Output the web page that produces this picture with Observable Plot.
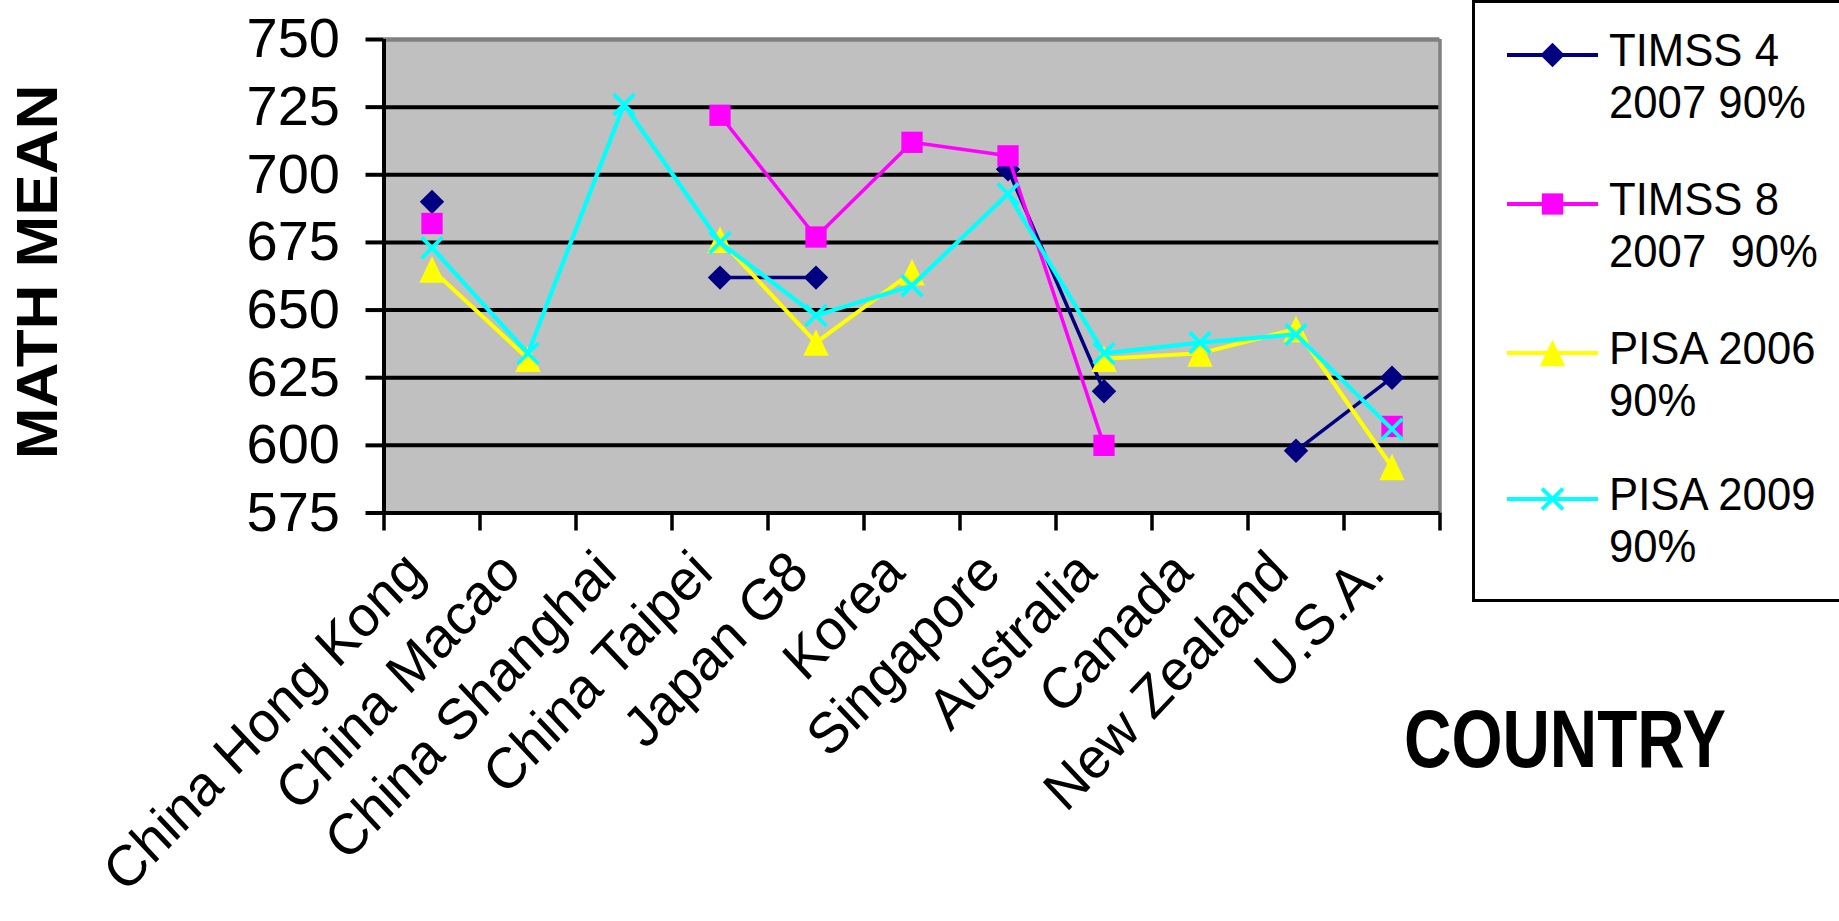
<!DOCTYPE html>
<html>
<head>
<meta charset="utf-8">
<script src="https://cdn.jsdelivr.net/npm/d3@7"></script>
<script src="https://cdn.jsdelivr.net/npm/@observablehq/plot@0.6"></script>
<style>
  html, body { margin: 0; padding: 0; background: #fff; overflow: hidden; }
  #chart svg { display: block; }
</style>
</head>
<body>
<div id="chart"></div>
<script>
// Countries along the x axis
const countries = [
  "China Hong Kong", "China Macao", "China Shanghai", "China Taipei", "Japan G8",
  "Korea", "Singapore", "Australia", "Canada", "New Zealand", "U.S.A."
];

// 90th-percentile math means (null = not assessed)
const timss4   = [690, null, null, 662, 662, null, 702, 620, null, 598, 625];
const timss8   = [682, null, null, 722, 677, 712, 707, 600, null, null, 607];
const pisa2006 = [665, 632, null, 676, 638, 664, null, 632, 634, 643, 592];
const pisa2009 = [673, 634, 726, 675, 648, 659, 693, 634, 638, 641, 606];

// Legend labels, two lines each
const legendLabels = [
  ["TIMSS 4", "2007 90%"],
  ["TIMSS 8", "2007  90%"],
  ["PISA 2006", "90%"],
  ["PISA 2009", "90%"]
];

// Y axis ticks
const yTicks = [575, 600, 625, 650, 675, 700, 725, 750];

// Triangle centred on its bounding box
const triangleMarker = {
  draw(context, size) {
    const s = Math.sqrt(size) * 0.73;
    const h = s * 1.05;
    context.moveTo(0, -h);
    context.lineTo(s, h);
    context.lineTo(-s, h);
    context.closePath();
  }
};

const seriesValues = [timss4, timss8, pisa2006, pisa2009];
const seriesStyle = [
  {color: "#000080", symbol: d3.symbolDiamond2, r: 11, filled: true, width: 3.5},
  {color: "#ff00ff", symbol: d3.symbolSquare, r: 12, filled: true, width: 3.5},
  {color: "#ffff00", symbol: triangleMarker, r: 9.8, filled: true, width: 4},
  {color: "#00ffff", symbol: d3.symbolTimes, r: 9.5, filled: false, width: 4.2}
];

const W = 1839, H = 921;
const frameLeft = 383.5, frameRight = 1439.5, frameTop = 39, frameBottom = 512.5;

const seriesMarks = seriesValues.flatMap((values, k) => {
  const st = seriesStyle[k];
  const rows = countries.map((c, i) => ({x: i + 0.5, y: values[i]}));
  return [
    Plot.line(rows, {x: "x", y: "y", stroke: st.color, strokeWidth: st.width}),
    Plot.dot(rows, {
      x: "x", y: "y", symbol: st.symbol, r: st.r,
      fill: st.filled ? st.color : "none",
      stroke: st.filled ? "none" : st.color,
      strokeWidth: st.filled ? 0 : 3.8
    })
  ];
});

const chart = Plot.plot({
  width: W,
  height: H,
  marginLeft: frameLeft,
  marginRight: W - frameRight,
  marginTop: frameTop,
  marginBottom: H - frameBottom,
  style: {fontFamily: "'Liberation Sans', Arial, sans-serif", background: "#fff", color: "#000"},
  x: {domain: [0, countries.length]},
  y: {domain: [yTicks[0], yTicks[yTicks.length - 1]]},
  marks: [
    Plot.frame({fill: "#c0c0c0", stroke: "none"}),
    Plot.ruleY(yTicks.slice(1, -1), {stroke: "#000", strokeWidth: 4}),
    Plot.ruleY([yTicks[yTicks.length - 1]], {stroke: "#808080", strokeWidth: 4.5}),
    Plot.ruleX([countries.length], {stroke: "#808080", strokeWidth: 3.5}),
    Plot.ruleY([yTicks[0]], {stroke: "#000", strokeWidth: 4}),
    Plot.ruleX([0], {stroke: "#000", strokeWidth: 4}),
    Plot.axisY(yTicks, {tickSize: 18, tickPadding: 26, fontSize: 56, strokeWidth: 4, label: null}),
    Plot.axisX(d3.range(0, countries.length + 1), {tickSize: 18, strokeWidth: 3.5, tickFormat: () => "", label: null}),
    ...seriesMarks,
    Plot.text(countries, {
      x: (d, i) => i + 0.5,
      text: d => d,
      frameAnchor: "bottom",
      rotate: -45,
      textAnchor: "end",
      fontSize: 54,
      dx: -5,
      dy: 62,
      className: "country-label"
    })
  ]
});

document.getElementById("chart").appendChild(chart);

const svg = d3.select(chart);

// Slightly taller lettering for the slanted country names
svg.selectAll(".country-label text").attr("transform", function () {
  return this.getAttribute("transform").replace(" rotate(", " scale(1,1.06) rotate(");
});

// Axis titles
svg.append("text")
  .attr("transform", "translate(56.5,272) rotate(-90) scale(1.07,1)")
  .attr("text-anchor", "middle")
  .attr("font-weight", "bold")
  .attr("font-size", 58)
  .attr("fill", "#000")
  .text("MATH MEAN");

svg.append("text")
  .attr("transform", "translate(1565,767) scale(0.8,1)")
  .attr("text-anchor", "middle")
  .attr("font-weight", "bold")
  .attr("font-size", 82)
  .attr("fill", "#000")
  .text("COUNTRY");

// Legend
const legend = svg.append("g");
legend.append("rect")
  .attr("x", 1473.5).attr("y", 1.5)
  .attr("width", 420).attr("height", 599)
  .attr("fill", "#fff").attr("stroke", "#000").attr("stroke-width", 3);

const rowY = [55, 204, 353, 499];
legendLabels.forEach((lines, k) => {
  const st = seriesStyle[k];
  const y = rowY[k];
  legend.append("line")
    .attr("x1", 1507).attr("x2", 1598).attr("y1", y).attr("y2", y)
    .attr("stroke", st.color).attr("stroke-width", 3.8);
  legend.append("path")
    .attr("transform", `translate(1552.5,${y})`)
    .attr("d", d3.symbol(st.symbol, Math.PI * st.r * st.r)())
    .attr("fill", st.filled ? st.color : "none")
    .attr("stroke", st.filled ? "none" : st.color)
    .attr("stroke-width", st.filled ? 0 : 3.8);
  lines.forEach((line, j) => {
    legend.append("text")
      .attr("transform", `translate(1609,${y + 11 + j * 51.5}) scale(0.95,1)`)
      .attr("text-anchor", "start")
      .attr("font-size", 46)
      .attr("fill", "#000")
      .style("white-space", "pre")
      .text(line);
  });
});
</script>
</body>
</html>
